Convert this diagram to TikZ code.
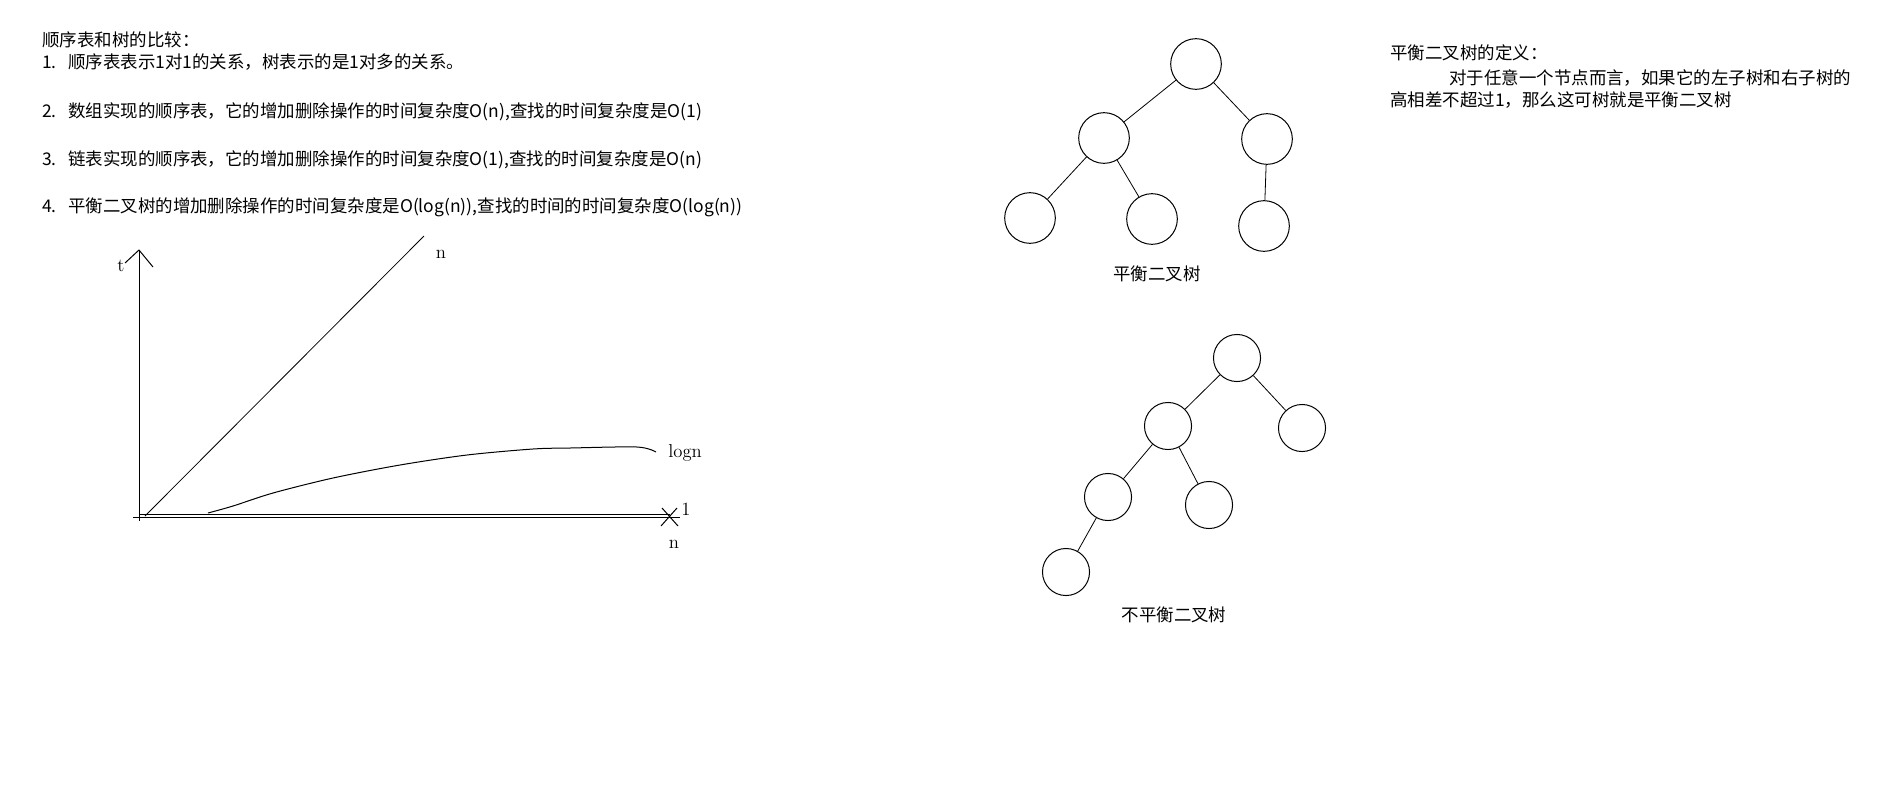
\documentclass[tikz,border=0pt]{standalone}
\usepackage{fontspec}
\usepackage{tikz}
\usepackage{tkz-euclide}
\newfontfamily\cjk{Noto Sans CJK SC}
\newcommand\listno[1]{\makebox[19.5pt][l]{#1.}}

\begin{document}
\begin{tikzpicture}[x=0.75pt,y=-0.75pt,
  txt/.style={font=\cjk\fontsize{13.1pt}{15pt}\selectfont,anchor=west,inner sep=0pt},
  treecap/.style={font=\cjk\fontsize{13.1pt}{15pt}\selectfont,inner sep=0pt},
  lbl/.style={font=\fontsize{14pt}{16pt}\selectfont,inner sep=0pt},
  vertex/.style={circle,draw,line width=0.75pt,minimum size=38pt,inner sep=0pt},
  svertex/.style={vertex,minimum size=35.3pt},
  edge/.style={line width=0.6pt},
  axis/.style={line width=0.75pt}]
  % 0. Page frame
  \useasboundingbox (0,0) rectangle (1901,804);

  % 1. Notes on the left
  \node[txt] (title) at (42,40) {顺序表和树的比较：};
  \node[txt] (note1) at (42,62) {\listno{1}顺序表表示1对1的关系，树表示的是1对多的关系。};
  \node[txt] (note2) at (42,112) {\listno{2}数组实现的顺序表，它的增加删除操作的时间复杂度O(n),查找的时间复杂度是O(1)};
  \node[txt] (note3) at (42,160) {\listno{3}链表实现的顺序表，它的增加删除操作的时间复杂度O(1),查找的时间复杂度是O(n)};
  \node[txt] (note4) at (42,207) {\listno{4}平衡二叉树的增加删除操作的时间复杂度是O(log(n)),查找的时间的时间复杂度O(log(n))};

  % 2. Define the chart points
  \tkzDefPoint(139,521){Tb}
  \tkzDefPoint(139,250){Ty}
  \tkzDefPoint(125,263){Ta}
  \tkzDefPoint(153,267){Tc}
  \tkzDefPoint(133,517){Nl}
  \tkzDefPoint(680,517){Nr}
  \tkzDefPoint(145,516){D0}
  \tkzDefPoint(424,236){D1}
  \tkzDefPoint(140,514){C0}
  \tkzDefPoint(670,514){C1}
  \tkzDefPoint(662,508){X1}
  \tkzDefPoint(678,526){X2}
  \tkzDefPoint(661,526){X3}
  \tkzDefPoint(677,508){X4}

  % 3. Axes, the line n, the constant 1 and the curve logn
  \draw[axis] (Tb) -- (Ty);
  \draw[axis] (Ta) -- (Ty) -- (Tc);
  \draw[axis] (Nl) -- (Nr);
  \draw[axis] (X1) -- (X2);
  \draw[axis] (X3) -- (X4);
  \draw[axis] (C0) -- (C1);
  \draw[edge] (D0) -- (D1);
  \draw[axis] plot[smooth] coordinates {(208,513) (233,506) (273,493) (333,478)
    (400,465) (467,455) (533,449) (570,448) (637,447) (656,452)};
  \node[lbl] (tlab) at (121,266) {t};
  \node[lbl] (nlab) at (441,254) {n};
  \node[lbl,anchor=west] (loglab) at (668,453) {logn};
  \node[lbl] (onelab) at (686,509) {1};
  \node[lbl] (axlab) at (674,544) {n};

  % 4. Balanced tree
  \node[vertex] (b0) at (1196,64) {};
  \node[vertex] (b1) at (1104,138) {};
  \node[vertex] (b2) at (1267,139) {};
  \node[vertex] (b3) at (1030,218) {};
  \node[vertex] (b4) at (1152,219) {};
  \node[vertex] (b5) at (1264,226) {};
  \draw[edge] (b0) -- (b1);
  \draw[edge] (b0) -- (b2);
  \draw[edge] (b1) -- (b3);
  \draw[edge] (b1) -- (b4);
  \draw[edge] (b2) -- (b5);
  \node[treecap] (bcap) at (1157,274) {平衡二叉树};

  % 5. Unbalanced tree
  \node[svertex] (u0) at (1237,358) {};
  \node[svertex] (u1) at (1168,426) {};
  \node[svertex] (u2) at (1302,428) {};
  \node[svertex] (u3) at (1108,497) {};
  \node[svertex] (u4) at (1209,505) {};
  \node[svertex] (u5) at (1066,572) {};
  \draw[edge] (u0) -- (u1);
  \draw[edge] (u0) -- (u2);
  \draw[edge] (u1) -- (u3);
  \draw[edge] (u1) -- (u4);
  \draw[edge] (u3) -- (u5);
  \node[treecap] (ucap) at (1174,615) {不平衡二叉树};

  % 6. Definition on the right
  \node[txt] (defhead) at (1390,53) {平衡二叉树的定义：};
  \node[txt] (defline1) at (1449,78) {对于任意一个节点而言，如果它的左子树和右子树的};
  \node[txt] (defline2) at (1390,100) {高相差不超过1，那么这可树就是平衡二叉树};
\end{tikzpicture}
\end{document}
